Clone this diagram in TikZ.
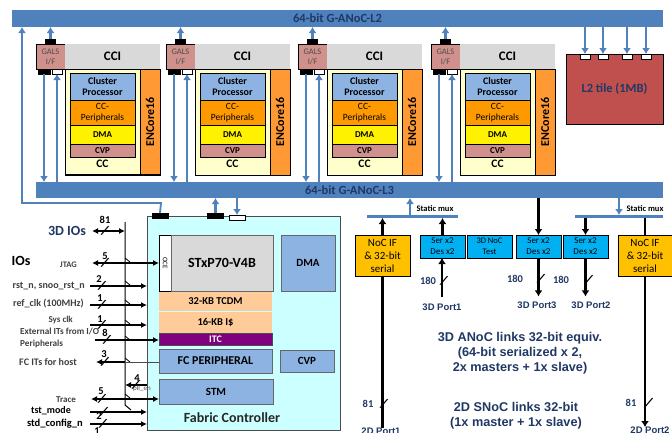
\documentclass[tikz,border=0pt]{standalone}
\usepackage{fontspec}
\setmainfont{Carlito}
\newfontfamily\arialf{Liberation Sans}
\usetikzlibrary{arrows.meta,positioning,calc}
\definecolor{nocblue}{HTML}{4F81BD}
\definecolor{navytxt}{HTML}{1F3864}
\definecolor{galsred}{HTML}{D0918C}
\definecolor{ccigray}{HTML}{D9D9D9}
\definecolor{ccyel}{HTML}{FFFFCC}
\definecolor{encorg}{HTML}{FF9933}
\definecolor{cluster}{HTML}{8DB3E2}
\definecolor{perorg}{HTML}{FF9900}
\definecolor{l2red}{HTML}{C0504D}
\definecolor{fccyan}{HTML}{CCFFFF}
\definecolor{tcdm}{HTML}{FFCC99}
\definecolor{itcpur}{HTML}{800080}
\definecolor{serblue}{HTML}{00B0F0}
\definecolor{nocyel}{HTML}{FFC000}
\begin{document}
\begin{tikzpicture}[x=1pt,y=-1pt,
    box/.style={draw=black, line width=.8pt, inner sep=0pt, outer sep=0pt, align=center,
                font=\fontsize{10}{11}\selectfont\bfseries},
    port/.style={draw=black, line width=.6pt, inner sep=0pt, outer sep=0pt, minimum width=10pt, minimum height=5pt},
    noc/.style={fill=nocblue, inner sep=0pt, outer sep=0pt, font=\fontsize{12.5}{14}\selectfont\bfseries, text=navytxt},
    arrb/.style={-{Latex[length=6pt,width=8pt]}, line width=2.8pt, nocblue},
    arrk/.style={-{Latex[length=6pt,width=8pt]}, line width=2.2pt, black},
    ioboth/.style={line width=1.4pt, black, {Latex[length=6pt,width=6pt]}-{Latex[length=6pt,width=6pt]}},
    ioin/.style={line width=1.4pt, black, -{Latex[length=6pt,width=6pt]}},
    ioout/.style={line width=1.4pt, black, {Latex[length=6pt,width=6pt]}-},
    iolab/.style={inner sep=0pt, align=left, font=\fontsize{10}{11}\selectfont\bfseries, text=black!75},
    cut/.style={inner sep=0pt, rotate=-15, font=\fontsize{14}{14}\selectfont\bfseries},
    num/.style={inner sep=0pt, font=\fontsize{10.5}{11}\selectfont\bfseries},
    portlab/.style={inner sep=0pt, font=\arialf\fontsize{9.5}{10}\selectfont\bfseries, text=navytxt},
    note/.style={inner sep=0pt, align=center, font=\arialf\fontsize{12.7}{15}\selectfont\bfseries, text=navytxt}]
  \useasboundingbox (0,0) rectangle (672,432);
  % NoC bars
  \node[noc, minimum width=651, minimum height=17, anchor=north west] (l2) at (12,10) {64-bit G-ANoC-L2};
  \node[noc, minimum width=627, minimum height=16, anchor=north west] (l3) at (36,182) {64-bit G-ANoC-L3};
  % cluster tiles
  \foreach \i/\x in {1/36,2/166,3/298,4/431} {
    \node[box, fill=galsred, minimum width=29, minimum height=25, anchor=north west, font=\fontsize{8.5}{10}\selectfont, text=black!70] (gals\i) at (\x,44) {GALS\\I/F};
    \node[box, draw=none, fill=ccigray, minimum width=95, minimum height=25, right=0pt of gals\i, font=\fontsize{13}{14}\selectfont\bfseries] (cci\i) {CCI};
    \node[box, fill=ccyel, minimum width=95, minimum height=106, below=0pt of cci\i] (cc\i) {};
    \node[box, fill=encorg, minimum width=20, minimum height=106, anchor=north east, font=\fontsize{12}{13}\selectfont\bfseries] (enc\i) at (cc\i.north east) {\rotatebox{90}{ENCore16}};
    \node[box, fill=cluster, minimum width=65, minimum height=27, anchor=north west] (clu\i) at ($(cc\i.north west)+(5,4)$) {Cluster\\Processor};
    \node[box, fill=perorg, minimum width=65, minimum height=25, below=0pt of clu\i, font=\fontsize{9.5}{10.5}\selectfont] (per\i) {CC-\\Peripherals};
    \node[box, fill=yellow, minimum width=65, minimum height=19, below=0pt of per\i, font=\fontsize{9}{10}\selectfont\bfseries] (dma\i) {DMA};
    \node[box, fill=galsred, minimum width=65, minimum height=13, below=0pt of dma\i, font=\fontsize{9}{10}\selectfont\bfseries] (cvp\i) {CVP};
    \node[inner sep=0pt, below=3pt of cvp\i, font=\fontsize{11.5}{12}\selectfont\bfseries] (cclab\i) {CC};
    \node[port, fill=black, anchor=south] (gtop\i) at (gals\i.north) {};
    \node[port, fill=black, minimum width=12, anchor=north west] (gdn\i) at ($(gals\i.south west)+(2,0)$) {};
    \node[port, fill=white, anchor=north west] (gup\i) at ($(gals\i.south west)+(16,0)$) {};
    \draw[arrb] (gtop\i.north) -- (gtop\i.north |- l2.south);
    \draw[arrb] (gdn\i.south) -- (gdn\i.south |- l3.north);
    \draw[arrb] (gup\i.south |- l3.north) -- (gup\i.south);
  }
  \draw[line width=2pt] (cc1.south west) -- (cc1.south east);
  % L2 tile
  \node[box, fill=l2red, minimum width=97, minimum height=70, anchor=north west, font=\fontsize{12.5}{14}\selectfont\bfseries, text=navytxt] (l2tile) at (566,54) {L2 tile (1MB)};
  \foreach \i/\x in {1/585,2/603,3/627,4/646} {
    \node[port, fill=white, anchor=north] (lp\i) at (\x,54) {};
    \draw[arrb] (lp\i.north |- l2.south) -- (lp\i.north);
  }
  % fabric controller
  \node[draw=black!70, line width=.8pt, fill=fccyan, inner sep=0pt, outer sep=0pt, minimum width=193, minimum height=214, anchor=north west] (fc) at (147,216) {};
  \node[box, fill=white, minimum width=12, minimum height=56, anchor=north west, font=\fontsize{7}{8}\selectfont] (oce) at (159,235) {\rotatebox{-90}{OCE}};
  \node[box, draw=black!60, fill=ccigray, minimum width=102, minimum height=56, right=0pt of oce, font=\fontsize{14}{16}\selectfont\bfseries] (stx) {STxP70-V4B};
  \node[box, draw=none, fill=tcdm, minimum width=113, minimum height=19, anchor=north west, font=\fontsize{10.5}{12}\selectfont\bfseries] (tcd) at (159,292) {32-KB TCDM};
  \node[box, draw=none, fill=tcdm, minimum width=113, minimum height=21, below=1pt of tcd, font=\fontsize{10.5}{12}\selectfont\bfseries] (ica) {16-KB I\$};
  \node[box, fill=itcpur, draw=black!70, text=white, minimum width=113, minimum height=12, below=0pt of ica, font=\fontsize{10}{10}\selectfont\bfseries] (itc) {ITC};
  \node[box, draw=black!60, fill=cluster, minimum width=113, minimum height=24, anchor=north west, font=\fontsize{12}{14}\selectfont\bfseries] (per) at (159,349) {FC PERIPHERAL};
  \node[box, draw=black!60, fill=cluster, minimum width=114, minimum height=25, anchor=north west, font=\fontsize{11}{12}\selectfont\bfseries] (stm) at (159,379) {STM};
  \node[box, draw=black!60, fill=cluster, minimum width=54, minimum height=56, anchor=north west, font=\fontsize{11}{12}\selectfont\bfseries] (dma) at (281,235) {DMA};
  \node[box, draw=black!60, fill=cluster, minimum width=54, minimum height=22, anchor=north west, font=\fontsize{11}{12}\selectfont\bfseries] (cvp) at (280,350) {CVP};
  \node[inner sep=0pt, font=\fontsize{14}{16}\selectfont\bfseries, text=black!85] (fclab) at (232,418) {Fabric Controller};
  \node[port, fill=black, minimum width=16, anchor=north] (fp1) at (160,213) {};
  \node[port, fill=black, minimum width=16, anchor=north] (fp2) at (215.5,213) {};
  \node[port, fill=white, minimum width=16, anchor=north] (fp3) at (237,215) {};
  \coordinate (lt) at (22,203);
  \coordinate (rt) at (161,203);
  \draw[arrb, line width=1.8pt] (fp1.north) -- (rt) -- (lt) -- (lt |- l2.south);
  \draw[arrb] (fp2.north) -- (fp2.north |- l3.south);
  \draw[arrb] (fp3.north |- l3.south) -- (fp3.north);
  % IO bus
  \coordinate (bust) at (125,222);
  \coordinate (busb) at (125,405);
  \draw[line width=1pt] (bust) -- (busb) -- ++(6,5);
  \foreach \y in {258,281,300,320,336,358,394}
    \draw[line width=.8pt] (125,\y) -- ++(5,4);
  \node[inner sep=0pt, font=\fontsize{14}{15}\selectfont\bfseries, text=navytxt] (io3d) at (67,231) {3D IOs};
  \node[inner sep=0pt, font=\fontsize{14}{15}\selectfont\bfseries] (ios) at (21,261) {IOs};
  \node[iolab, anchor=east, font=\fontsize{8.5}{10}\selectfont\bfseries] (jtag) at (77,265) {JTAG};
  \node[iolab, anchor=east] (rst) at (85,286) {rst\_n, snoo\_rst\_n};
  \node[iolab, anchor=east] (ref) at (84,304) {ref\_clk (100MHz)};
  \node[iolab, anchor=east, font=\fontsize{9}{10}\selectfont\bfseries] (sys) at (73,320) {Sys clk};
  \node[iolab, anchor=north west, font=\fontsize{9.2}{12}\selectfont\bfseries] (ext) at (20,328) {External ITs from I/O\\Peripherals};
  \node[iolab, anchor=east] (fcit) at (77,362) {FC ITs for host};
  \node[iolab, anchor=east, font=\fontsize{9}{10}\selectfont\bfseries] (trace) at (76,400) {Trace};
  \node[iolab, anchor=east, text=black] (tst) at (71,411) {tst\_mode};
  \node[iolab, anchor=east, text=black, font=\fontsize{10.5}{11}\selectfont\bfseries] (std) at (83,424) {std\_config\_n};
  \coordinate (c3d) at (92,231);
  \coordinate (cjtag) at (92,263);
  \coordinate (crst) at (90,286);
  \coordinate (cref) at (90,305);
  \coordinate (csys) at (90,325);
  \coordinate (cext) at (95,340);
  \coordinate (cfc) at (96,362);
  \coordinate (cpll) at (125,385);
  \coordinate (ctr) at (91,399);
  \coordinate (ctst) at (90,412);
  \coordinate (cstd) at (90,424);
  \draw[ioboth] (c3d) -- (c3d -| bust);
  \draw[ioboth] (cjtag) -- (cjtag -| oce.west);
  \draw[ioin] (crst) -- (crst -| fc.west);
  \draw[ioin] (cref) -- (cref -| fc.west);
  \draw[ioin] (csys) -- (csys -| fc.west);
  \draw[ioin] (cext) -- (cext -| itc.west);
  \draw[ioout] (cfc) -- (cfc -| bust);
  \draw[line width=.5pt, black!70] (cfc -| bust) -- (cfc -| per.west);
  \draw[ioout] (cpll) -- (cpll -| fc.west);
  \draw[ioboth] (ctr) -- (ctr -| stm.west);
  \draw[ioin] (ctst) -- (ctst -| fc.west);
  \draw[ioin] (cstd) -- (cstd -| fc.west);
  \node[inner sep=0pt, anchor=west, font=\fontsize{7}{8}\selectfont, text=black!70] (pll) at (133,389) {pll\_en};
  \foreach \name/\x/\y/\u/\v/\n in {a/105/231/105/220/81, b/105/263/105/256/5, c/102/286/99/279/2,
      d/102/305/100/298/1, e/102/325/100/319/1, f/107/340/105/333/8, g/105/362/104/354/3,
      h/136/385/137/378/4, i/102/399/101/391/5, j/104/412/99/416/2, k/103/424/97/431/1} {
    \node[cut] (cut\name) at (\x,\y) {/};
    \node[num] (num\name) at (\u,\v) {\n};
  }
  % 3D and 2D links
  \node[noc, minimum width=91, minimum height=3, anchor=north west] (muxl) at (367,215) {};
  \node[noc, minimum width=88, minimum height=3, anchor=north west] (muxr) at (575,215) {};
  \node[inner sep=0pt, font=\fontsize{8.5}{9}\selectfont\bfseries] (muxllab) at (435,209) {Static mux};
  \node[inner sep=0pt, font=\fontsize{8.5}{9}\selectfont\bfseries] (muxrlab) at (645,209) {Static mux};
  \node[box, fill=nocyel, minimum width=55, minimum height=41, anchor=north west, font=\fontsize{11}{13}\selectfont] (nocl) at (355,235) {NoC IF\\\& 32-bit\\serial};
  \node[box, fill=nocyel, minimum width=54, minimum height=41, anchor=north west, font=\fontsize{11}{13}\selectfont] (nocr) at (618,235) {NoC IF\\\& 32-bit\\serial};
  \node[box, fill=serblue, minimum width=45, minimum height=23, anchor=north west, font=\fontsize{9}{11}\selectfont] (ser1) at (420,235) {Ser x2\\Des x2};
  \node[box, fill=serblue, minimum width=45, minimum height=23, anchor=north west, font=\fontsize{8.5}{11}\selectfont] (test) at (467,235) {3D NoC\\Test};
  \node[box, fill=serblue, minimum width=45, minimum height=23, anchor=north west, font=\fontsize{9}{11}\selectfont] (ser3) at (516,235) {Ser x2\\Des x2};
  \node[box, fill=serblue, minimum width=45, minimum height=23, anchor=north west, font=\fontsize{9}{11}\selectfont] (ser2) at (563,235) {Ser x2\\Des x2};
  \node[portlab] (port1) at (442,307) {3D Port1};
  \node[portlab] (port3) at (537,305) {3D Port3};
  \node[portlab] (port2) at (591,305) {3D Port2};
  \node[portlab, anchor=north] (port2d1) at (381,428) {2D Port1};
  \node[portlab, anchor=north] (port2d2) at (650,427) {2D Port2};
  \coordinate (lmux) at (410,198);
  \coordinate (rmux) at (619,198);
  \draw[arrb] (lmux |- muxl.north) -- (lmux);
  \draw[arrb] (rmux) -- (rmux |- muxr.north);
  \draw[arrk] (nocl.north) -- (nocl.north |- muxl.south);
  \draw[line width=2.2pt] (nocl.south) -- (nocl.south |- port2d1.north);
  \draw[arrk] (ser1.north) -- (ser1.north |- muxl.south);
  \draw[arrk] ($(port1.north)+(0,-6)$) -- (port1.north |- ser1.south);
  \draw[arrk] (ser3.north |- l3.south) -- (ser3.north);
  \draw[arrk] (ser3.south) -- ($(port3.north -| ser3.south)+(0,-5)$);
  \draw[arrk] (ser2.north |- muxr.south) -- (ser2.north);
  \draw[arrk] (ser2.south) -- ($(port2.north -| ser2.south)+(0,-5)$);
  \draw[line width=1.6pt] (nocr.north |- muxr.south) -- (nocr.north);
  \draw[arrk] (nocr.south) -- (nocr.south |- port2d2.north);
  \foreach \name/\x/\y/\u/\v/\n in {l/444/281/428/281/180, m/541/279/515/279/180, n/589/280/561/280/180,
      o/384/404/368/404/81, p/649/403/631/403/81} {
    \node[cut] (cut\name) at (\x,\y) {/};
    \node[num, text=navytxt] (num\name) at (\u,\v) {\n};
  }
  \node[note] (n3d) at (520,353) {3D ANoC links 32-bit equiv.\\(64-bit serialized x 2,\\2x masters + 1x slave)};
  \node[note] (n2d) at (516,416) {2D SNoC links 32-bit\\(1x master + 1x slave)};
\end{tikzpicture}
\end{document}
